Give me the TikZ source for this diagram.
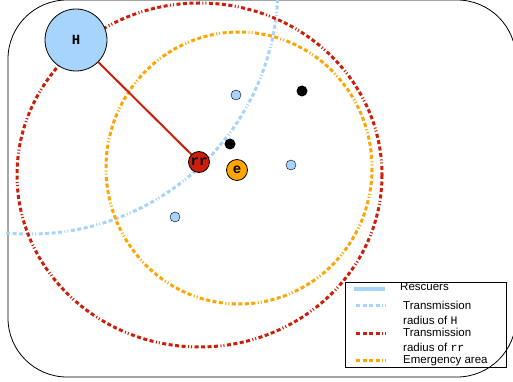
\documentclass[tikz,border=0pt]{standalone}
\usepackage{fontspec}
\setmainfont{Liberation Sans}
\setmonofont{Liberation Mono}
\definecolor{rescuerblue}{RGB}{166,212,250}
\definecolor{relayred}{RGB}{204,30,10}
\definecolor{areaorange}{RGB}{255,165,0}
\tikzset{
  dotdash/.style={line width=3pt, dash pattern=on 4pt off 2.5pt on 4pt off 2.5pt on 4pt off 2.5pt on 4pt off 2.5pt on 1pt off 2pt on 1pt off 2.5pt},
  rescuer/.style={circle, draw, fill=rescuerblue, minimum size=10pt, inner sep=0pt},
  victim/.style={circle, fill=black, minimum size=11pt, inner sep=0pt},
  bignode/.style={circle, draw, line width=0.8pt, inner sep=0pt, font=\fontsize{14}{14}\selectfont\ttfamily\bfseries},
  legtext/.style={anchor=base west, inner sep=0pt, font=\fontsize{11.5}{14}\selectfont}
}

\begin{document}
\begin{tikzpicture}[x=1pt,y=-1pt]
  \useasboundingbox (0,0) rectangle (513,382);
  \draw[rounded corners=59pt, line width=0.8pt] (8,0) rectangle (516,377);
  % ranges
  \coordinate (hc) at (30,-14);
  \coordinate (rc) at (199.5,175);
  \coordinate (ec) at (239,168);
  \begin{scope}
    \clip (4,0) rectangle (513,382);
    \draw[dotdash, rescuerblue] (hc) circle[radius=248];
  \end{scope}
  \draw[dotdash, relayred] (rc) ellipse[x radius=182.5, y radius=172];
  \draw[dotdash, areaorange] (ec) ellipse[x radius=133, y radius=136];
  % nodes
  \node[bignode, fill=rescuerblue, minimum size=62pt] (H) at (76,40) {H};
  \node[bignode, fill=relayred, minimum size=21pt] (rr) at (199,162) {rr};
  \node[bignode, fill=areaorange, minimum size=21pt] (e) at (237,170) {e};
  \draw[relayred, line width=2pt] (H) -- (rr);
  \node[rescuer] (r1) at (236,95) {};
  \node[rescuer] (r2) at (291,165) {};
  \node[rescuer] (r3) at (175,217) {};
  \node[victim] (v1) at (230,144) {};
  \node[victim] (v2) at (302,91) {};
  % legend
  \draw[line width=0.8pt] (345,282) rectangle (506,367);
  \draw[rescuerblue, line width=3.5pt] (354,289) -- (385,289);
  \draw[dotdash, rescuerblue] (356,305) -- (386,305);
  \draw[dotdash, relayred] (356,333) -- (386,333);
  \draw[dotdash, areaorange] (356,360.5) -- (386,360.5);
  \node[legtext] (l1) at (400,290.5) {Rescuers};
  \node[legtext] (l2) at (403,309.3) {Transmission};
  \node[legtext] (l3) at (403,324) {radius of \texttt{H}};
  \node[legtext] (l4) at (403,336.7) {Transmission};
  \node[legtext] (l5) at (403,351.7) {radius of \texttt{rr}};
  \node[legtext] (l6) at (403,363.3) {Emergency area};
\end{tikzpicture}
\end{document}
